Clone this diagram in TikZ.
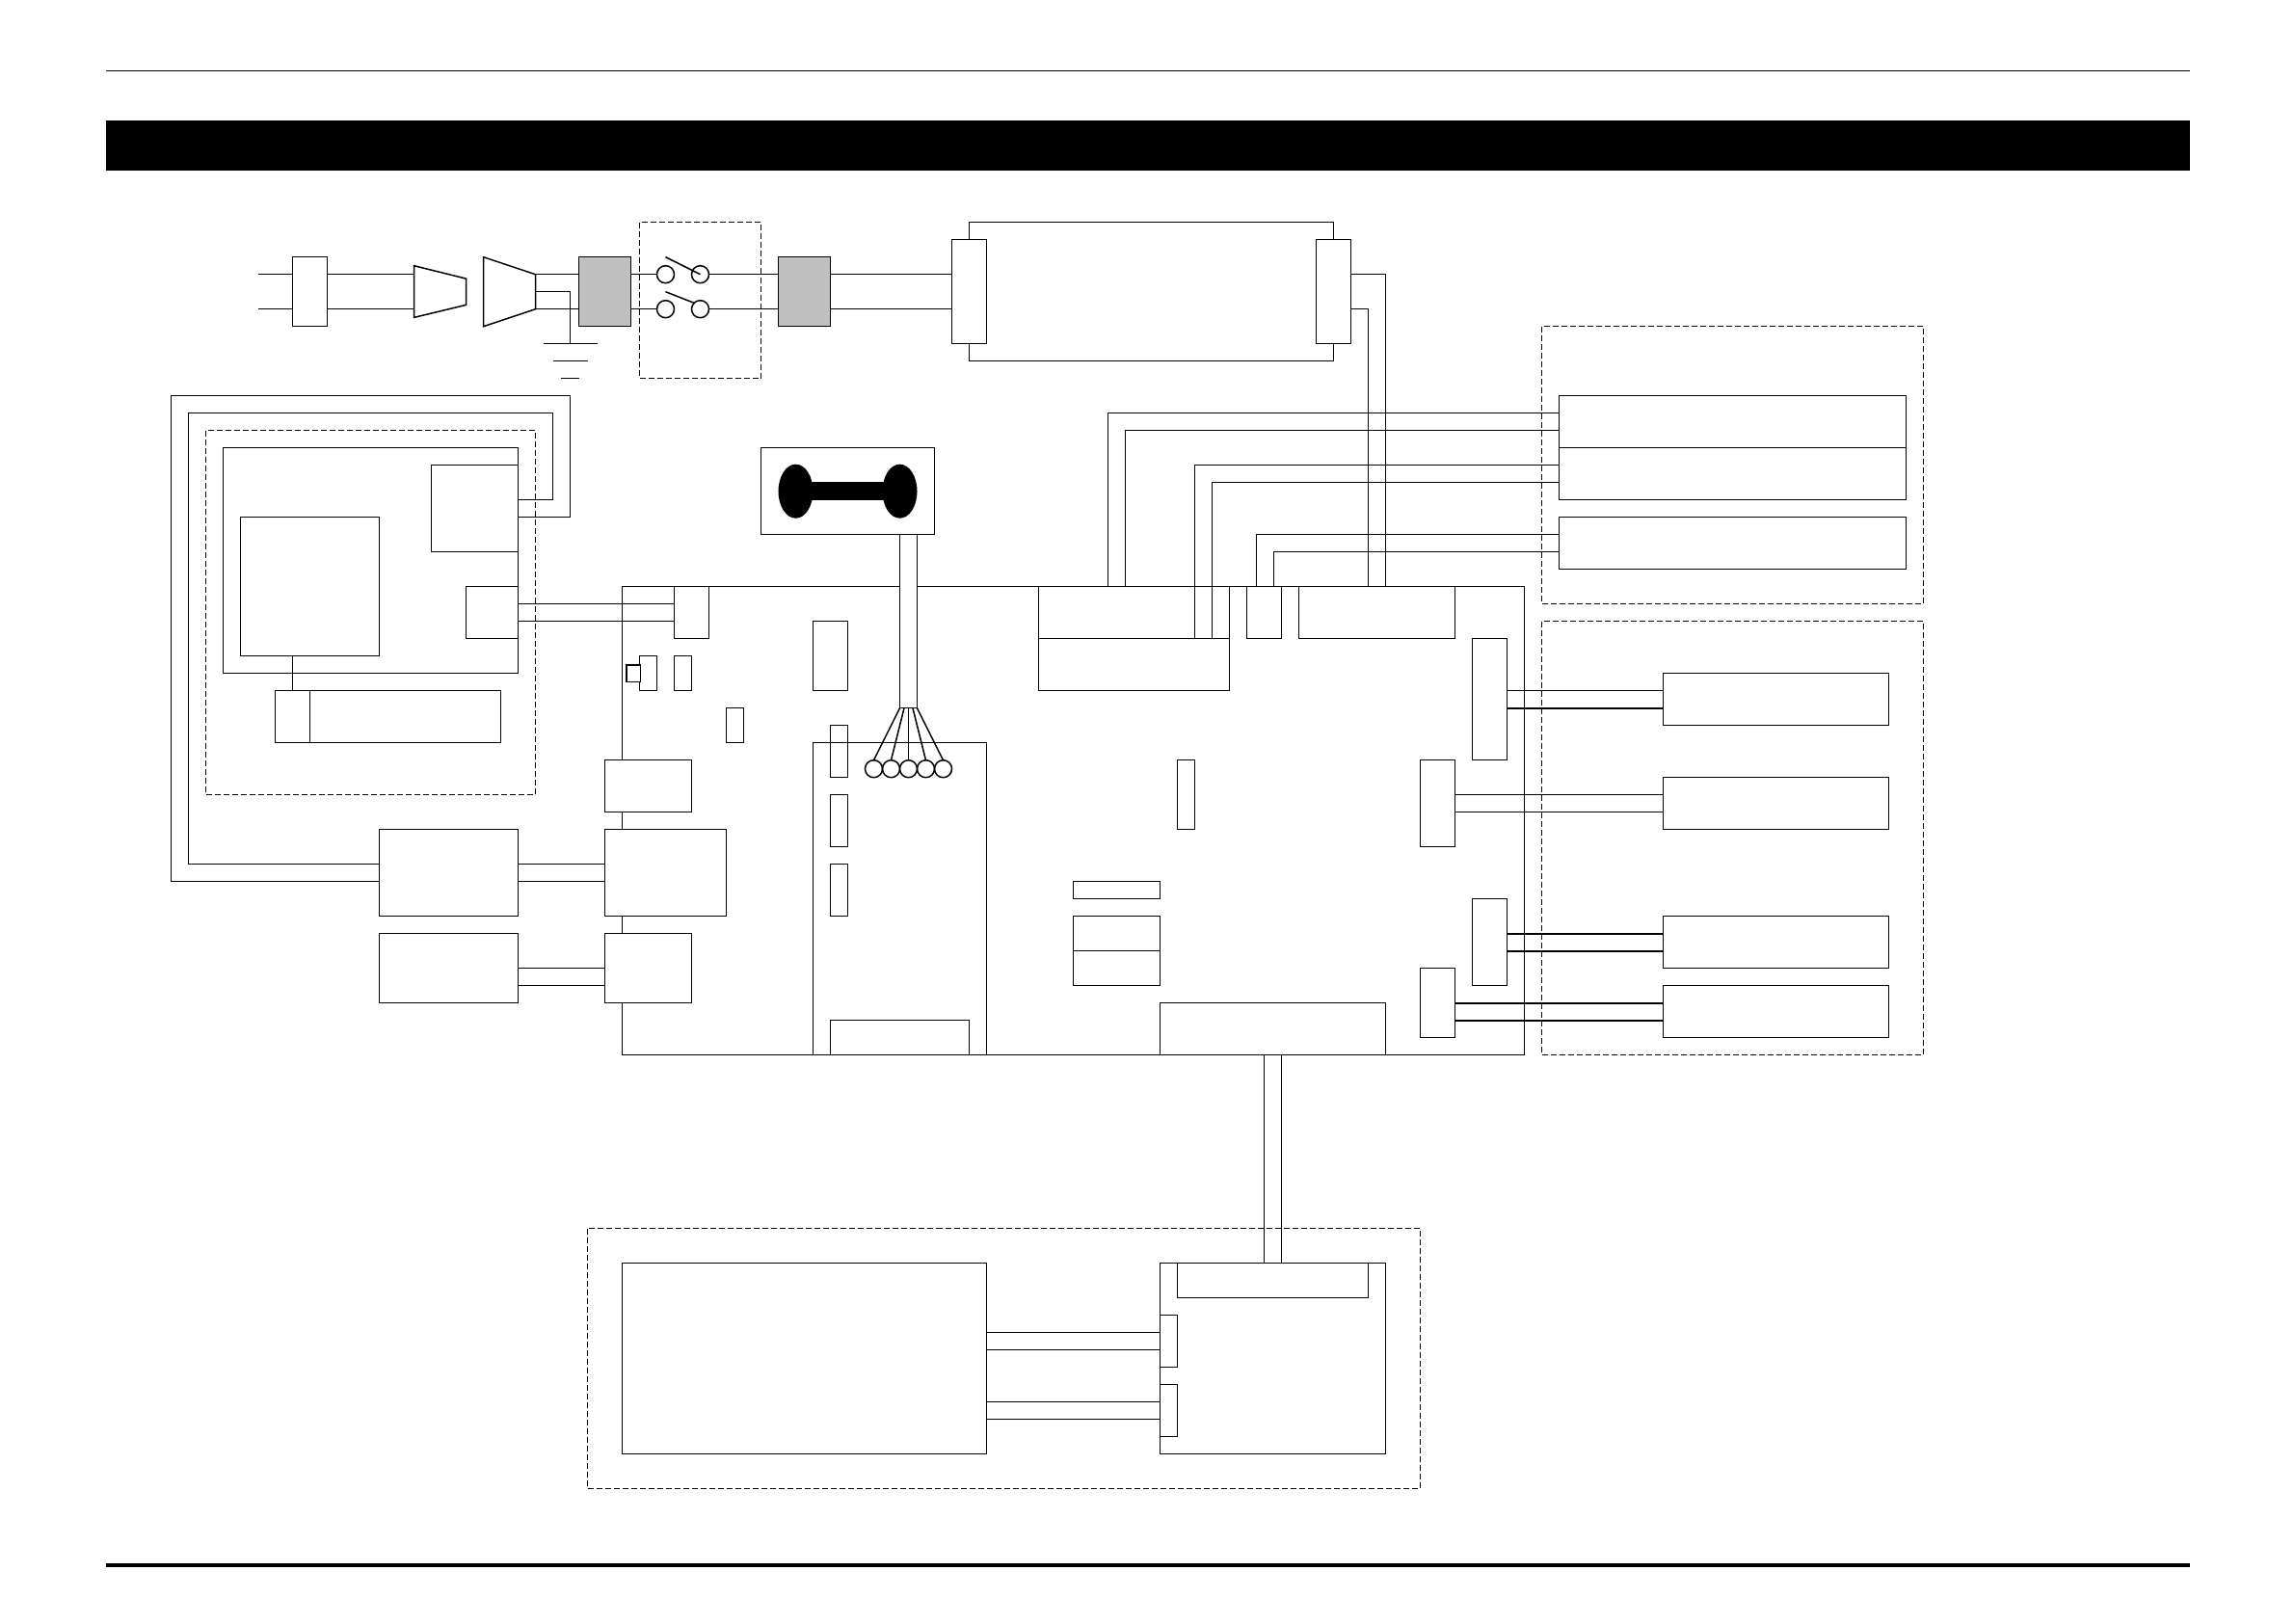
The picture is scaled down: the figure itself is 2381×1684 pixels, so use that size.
\documentclass[tikz,border=0pt]{standalone}
\usepackage{tikz}
\definecolor{filtgrey}{HTML}{C0C0C0}
\tikzset{
	blk/.style={draw,inner sep=0pt,outer sep=0pt},
	solidblk/.style={blk,fill=white},
	greyblk/.style={blk,fill=filtgrey},
	barblk/.style={inner sep=0pt,outer sep=0pt,fill=black},
	group/.style={draw,dash pattern=on 0.06cm off 0.03cm},
	heavywire/.style={line width=0.016cm},
	contact/.style={draw,circle,inner sep=0pt,outer sep=0pt,minimum size=0.18cm},
	blob/.style={ellipse,fill=black,inner sep=0pt,outer sep=0pt,minimum width=0.36cm,minimum height=0.56cm}
}
% block from its two corners, in pixels of the page
\newcommand{\blk}[6][blk]{\node[#1,minimum width={(#4-#2)*0.01cm},minimum height={(#5-#3)*0.01cm}] (#6) at ({(#2+#4)/2},{(#3+#5)/2}) {};}
\usetikzlibrary{shapes.geometric}
\begin{document}
\begin{tikzpicture}[x=0.01cm,y=-0.01cm,line width=0.015cm,shift={(0.2,0.4)}]
	\useasboundingbox (-0.2,-0.4) rectangle (2380.8,1683.6);
	% page rules
	\draw (110,73.3) -- (2271.5,73.3);
	\blk[barblk]{110}{125}{2271.5}{177}{titlebar}
	\draw[line width=0.035cm] (110,1623.5) -- (2271.5,1623.5);
	% mains input
	\coordinate (mains) at (267.3,302.3);
	\blk{303.3}{266.3}{339.3}{338.3}{plug}
	\draw (429.3,275.3) -- (483.3,288.7) -- (483.3,316) -- (429.3,329) -- cycle;
	\coordinate (trapA) at (429.3,302.3);
	\draw (501.3,266.3) -- (555.3,284.3) -- (555.3,320.3) -- (501.3,338.3) -- cycle;
	\coordinate (trapB) at (555.3,302.3);
	\blk[greyblk]{600.3}{266.3}{654.3}{338.3}{filtA}
	\blk[greyblk]{807.3}{266.3}{861.3}{338.3}{filtB}
	\draw[group] (663.3,230.3) rectangle (789.3,392.3);
	\node[contact] (swAin) at (690.3,284.3) {};
	\node[contact] (swAout) at (726.3,284.3) {};
	\node[contact] (swBin) at (690.3,320.3) {};
	\node[contact] (swBout) at (726.3,320.3) {};
	\draw (swAin.north) ++(0,-9) -- (swAout.center);
	\draw (swBin.north) ++(0,-9) -- (swBout.north west);
	\foreach \wy in {284.3,320.3} {
		\draw (mains |- 0,\wy) -- (plug.west |- 0,\wy);
		\draw (plug.east |- 0,\wy) -- (trapA |- 0,\wy);
		\draw (trapB |- 0,\wy) -- (filtA.west |- 0,\wy);
	}
	\draw (filtA.east |- swAin) -- (swAin.west);
	\draw (filtA.east |- swBin) -- (swBin.west);
	\draw (swAout.east) -- (filtB.west |- swAout);
	\draw (swBout.east) -- (filtB.west |- swBout);
	% earth
	\coordinate (earth) at (591.3,356.3);
	\draw (trapB) -| (earth);
	\draw (earth) ++(-28,0) -- ++(56,0);
	\draw (earth) ++(-18,18) -- ++(36,0);
	\draw (earth) ++(-9.5,36) -- ++(19,0);
	% main board
	\blk{645.3}{608.3}{1581.3}{1094.3}{board}
	% lamp
	\blk{1005.3}{230.3}{1383.3}{374.3}{lamp}
	\blk[solidblk]{987.3}{248.3}{1023.3}{356.3}{lampL}
	\blk[solidblk]{1365.3}{248.3}{1401.3}{356.3}{lampR}
	\foreach \wy in {284.3,320.3} \draw (filtB.east |- 0,\wy) -- (lampL.west |- 0,\wy);
	% left group
	\draw[group] (213.3,446.3) rectangle (555.3,824.3);
	\blk{231.3}{464.3}{537.3}{698.3}{tvset}
	\blk{447.3}{482.3}{537.3}{572.3}{hvbox}
	\blk{249.3}{536.3}{393.3}{680.3}{screen}
	\blk{483.3}{608.3}{537.3}{662.3}{tvconn}
	\blk{285.3}{716.3}{321.3}{770.3}{striptab}
	\blk{321.3}{716.3}{519.3}{770.3}{strip}
	\draw (striptab.north) -- (screen.south -| striptab.north);
	% left blocks on the board edge
	\blk{393.3}{860.3}{537.3}{950.3}{psuA}
	\blk{393.3}{968.3}{537.3}{1040.3}{psuB}
	\blk[solidblk]{627.3}{788.3}{717.3}{842.3}{inA}
	\blk[solidblk]{627.3}{860.3}{753.3}{950.3}{inB}
	\blk[solidblk]{627.3}{968.3}{717.3}{1040.3}{inC}
	\blk{699.3}{608.3}{735.3}{662.3}{topconn}
	\foreach \wy in {626.3,644.3} \draw (tvconn.east |- 0,\wy) -- (topconn.west |- 0,\wy);
	\foreach \wy in {896.3,914.3} \draw (psuA.east |- 0,\wy) -- (inB.west |- 0,\wy);
	\foreach \wy in {1004.3,1022.3} \draw (psuB.east |- 0,\wy) -- (inC.west |- 0,\wy);
	\draw (hvbox.east |- 0,518.3) -| (573.3,428.3) -| (195.3,896.3) -- (psuA.west |- 0,896.3);
	\draw (hvbox.east |- 0,536.3) -| (591.3,410.3) -| (177.3,914.3) -- (psuA.west |- 0,914.3);
	% small parts on the board
	\blk{663.3}{680.3}{681.3}{716.3}{jack}
	\blk[solidblk]{649.7}{689.3}{664.3}{707.3}{jackin}
	\draw[line width=0.022cm] (jackin.south west) -- (jackin.north west) -- (jackin.north east);
	\blk{699.3}{680.3}{717.3}{716.3}{partA}
	\blk{753.3}{734.3}{771.3}{770.3}{partB}
	\blk{843.3}{644.3}{879.3}{716.3}{chipA}
	\blk{843.3}{770.3}{1023.3}{1094.3}{panel}
	\blk{861.3}{1058.3}{1005.3}{1094.3}{panelfoot}
	\blk{861.3}{752.3}{879.3}{806.3}{chipB}
	\blk{861.3}{824.3}{879.3}{878.3}{chipC}
	\blk{861.3}{896.3}{879.3}{950.3}{chipD}
	\blk{1221.3}{788.3}{1239.3}{860.3}{partC}
	\blk{1113.3}{914.3}{1203.3}{932.3}{partD}
	\blk{1113.3}{950.3}{1203.3}{986.3}{partE}
	\blk{1113.3}{986.3}{1203.3}{1022.3}{partF}
	\blk{1203.3}{1040.3}{1437.3}{1094.3}{botconn}
	% remote sensor and leads
	\blk{789.3}{464.3}{969.3}{554.3}{sensor}
	\node[blob] (blobL) at (825.3,509.3) {};
	\node[blob] (blobR) at (933.3,509.3) {};
	\fill (blobL.center |- 0,500) rectangle (blobR.center |- 0,518.6);
	\blk[solidblk]{933.3}{554.3}{951.3}{734.3}{cable}
	\foreach \i/\lx/\dx in {1/906.3/-9,2/924.3/-4.5,3/942.3/0,4/960.3/4.5,5/978.3/9} {
		\node[contact] (lead\i) at (\lx,797.3) {};
		\draw (cable.south) ++(\dx,0) -- (lead\i.north);
	}
	% connectors top right
	\blk{1077.3}{608.3}{1275.3}{662.3}{conA}
	\blk{1077.3}{662.3}{1275.3}{716.3}{conB}
	\blk{1293.3}{608.3}{1329.3}{662.3}{conC}
	\blk{1347.3}{608.3}{1509.3}{662.3}{conD}
	% inverter group
	\draw[group] (1599.3,338.3) rectangle (1995.3,626.3);
	\blk{1617.3}{410.3}{1977.3}{464.3}{invA}
	\blk{1617.3}{464.3}{1977.3}{518.3}{invB}
	\blk{1617.3}{536.3}{1977.3}{590.3}{invC}
	\draw (conA.north -| 1149.3,0) |- (invA.west |- 0,428.3);
	\draw (conA.north -| 1167.3,0) |- (invA.west |- 0,446.3);
	\draw (conB.north -| 1239.3,0) |- (invB.west |- 0,482.3);
	\draw (conB.north -| 1257.3,0) |- (invB.west |- 0,500.3);
	\draw (conC.north -| 1303.3,0) |- (invC.west |- 0,554.3);
	\draw (conC.north -| 1321.3,0) |- (invC.west |- 0,572.3);
	\draw[heavywire] (conC.north -| 1303.3,0) -- (1303.3,554.3);
	\draw[heavywire] (conC.north -| 1321.3,0) -- (1321.3,572.3);
	\draw (lampR.east |- 0,284.3) -| (conD.north -| 1437.3,0);
	\draw (lampR.east |- 0,320.3) -| (conD.north -| 1419.3,0);
	% speaker group
	\draw[group] (1599.3,644.3) rectangle (1995.3,1094.3);
	\blk{1527.3}{662.3}{1563.3}{788.3}{outA}
	\blk{1473.3}{788.3}{1509.3}{878.3}{outB}
	\blk{1527.3}{932.3}{1563.3}{1022.3}{outC}
	\blk{1473.3}{1004.3}{1509.3}{1076.3}{outD}
	\blk{1725.3}{698.3}{1959.3}{752.3}{spkA}
	\blk{1725.3}{806.3}{1959.3}{860.3}{spkB}
	\blk{1725.3}{950.3}{1959.3}{1004.3}{spkC}
	\blk{1725.3}{1022.3}{1959.3}{1076.3}{spkD}
	\draw (outA.east |- 0,716.3) -- (spkA.west |- 0,716.3);
	\draw[heavywire] (outA.east |- 0,734.3) -- (spkA.west |- 0,734.3);
	\foreach \wy in {824.3,842.3} \draw (outB.east |- 0,\wy) -- (spkB.west |- 0,\wy);
	\foreach \wy in {968.3,986.3} \draw[heavywire] (outC.east |- 0,\wy) -- (spkC.west |- 0,\wy);
	\foreach \wy in {1040.3,1058.3} \draw[heavywire] (outD.east |- 0,\wy) -- (spkD.west |- 0,\wy);
	% bottom group
	\draw[group] (609.3,1274.3) rectangle (1473.3,1544.3);
	\blk{645.3}{1310.3}{1023.3}{1508.3}{dvd}
	\blk{1203.3}{1310.3}{1437.3}{1508.3}{dvdboard}
	\blk{1221.3}{1310.3}{1419.3}{1346.3}{dvdtop}
	\blk{1203.3}{1364.3}{1221.3}{1418.3}{dvdA}
	\blk{1203.3}{1436.3}{1221.3}{1490.3}{dvdB}
	\foreach \wy in {1382.3,1400.3} \draw (dvd.east |- 0,\wy) -- (dvdA.west |- 0,\wy);
	\foreach \wy in {1454.3,1472.3} \draw (dvd.east |- 0,\wy) -- (dvdB.west |- 0,\wy);
	\foreach \wx in {1311.3,1329.3} \draw (botconn.south -| \wx,0) -- (dvdtop.north -| \wx,0);
\end{tikzpicture}
\end{document}
